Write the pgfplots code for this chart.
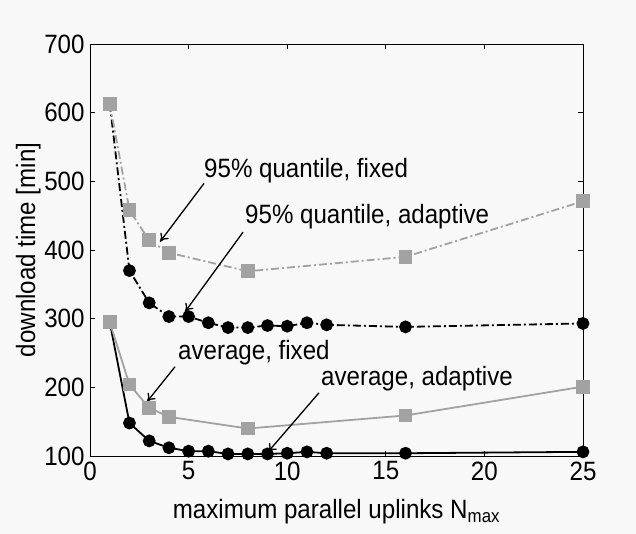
\documentclass[border=0pt]{standalone}
\usepackage{fontspec}
\setmainfont{Liberation Sans}[FakeStretch=0.91]
\usepackage{pgfplots}
\pgfplotsset{compat=1.18}
\usetikzlibrary{arrows.meta,backgrounds}

\definecolor{lgray}{RGB}{162,162,162}
\definecolor{bgcol}{RGB}{248,248,248}

\newcommand{\lbl}{\fontsize{26.5bp}{30bp}\selectfont}

\begin{document}
\begin{tikzpicture}
\begin{axis}[
  scale only axis,
  width=493bp, height=412bp,
  xmin=0, xmax=25, ymin=100, ymax=700,
  xtick={0,5,...,25}, ytick={100,200,...,700},
  tick align=inside, tick pos=both,
  major tick length=5bp,
  axis line style={black, line width=0.9bp},
  every tick/.style={black, line width=0.9bp},
  tick label style={font=\lbl},
  /pgf/number format/assume math mode=true,
  yticklabel style={xshift=-2bp},
  xticklabel style={yshift=-2bp},
  label style={font=\lbl},
  xlabel={maximum parallel uplinks N\textsubscript{max}},
  ylabel={download time [min]},
  xlabel style={at={(axis description cs:0.5,-0.152)}, anchor=base},
  ylabel style={at={(axis description cs:-0.125,0.5)}, anchor=center},
  clip=false,
]
% 95% quantile, adaptive
\addplot[black, line width=1.8bp, dash pattern=on 8bp off 3bp on 2bp off 3bp,
  mark=*, mark size=5.5bp, mark options={solid, fill=black}] coordinates {
  (1,613) (2,370) (3,323) (4,303) (5,303) (6,294) (7,287) (8,287)
  (9,290) (10,289) (11,294) (12,291) (16,288) (25,293)};
% average, adaptive
\addplot[black, line width=1.8bp, mark=*, mark size=5.5bp,
  mark options={solid, fill=black}] coordinates {
  (1,295) (2,148) (3,122) (4,112) (5,107) (6,107) (7,103) (8,103)
  (9,103) (10,104) (11,106) (12,104) (16,104) (25,106)};
% 95% quantile, fixed
\addplot[lgray, line width=1.8bp, dash pattern=on 8bp off 3bp on 2bp off 3bp,
  mark=square*, mark size=6bp, mark options={solid, fill=lgray, draw=lgray}] coordinates {
  (1,613) (2,458) (3,414) (4,396) (8,369) (16,390) (25,471)};
% average, fixed
\addplot[lgray, line width=1.8bp, mark=square*, mark size=6bp,
  mark options={solid, fill=lgray, draw=lgray}] coordinates {
  (1,295) (2,204) (3,170) (4,157) (8,140) (16,159) (25,201)};

% annotations
\node[anchor=base west, font=\lbl, inner sep=0pt] at (axis cs:5.78,506) {95\% quantile, fixed};
\draw[-{To[length=8bp,width=10bp]}, line width=1.3bp] (axis cs:5.78,497) -- (axis cs:3.55,412);
\node[anchor=base west, font=\lbl, inner sep=0pt] at (axis cs:7.86,438) {95\% quantile, adaptive};
\draw[-{To[length=8bp,width=10bp]}, line width=1.3bp] (axis cs:7.76,426) -- (axis cs:4.82,310);
\node[anchor=base west, font=\lbl, inner sep=0pt] at (axis cs:4.46,240) {average, fixed};
\draw[-{To[length=8bp,width=10bp]}, line width=1.3bp] (axis cs:4.31,230) -- (axis cs:2.89,179);
\node[anchor=base west, font=\lbl, inner sep=0pt] at (axis cs:11.71,203) {average, adaptive};
\draw[-{To[length=8bp,width=10bp]}, line width=1.3bp] (axis cs:11.61,192) -- (axis cs:9.03,106);

\coordinate (bbl) at (rel axis cs:-0.1826,-0.1893);
\coordinate (btr) at (rel axis cs:1.1075,1.1068);
\end{axis}
\begin{scope}[on background layer]
  \fill[bgcol] (bbl) rectangle (btr);
\end{scope}
\pgfresetboundingbox
\path[use as bounding box] (bbl) rectangle (btr);
\end{tikzpicture}
\end{document}
